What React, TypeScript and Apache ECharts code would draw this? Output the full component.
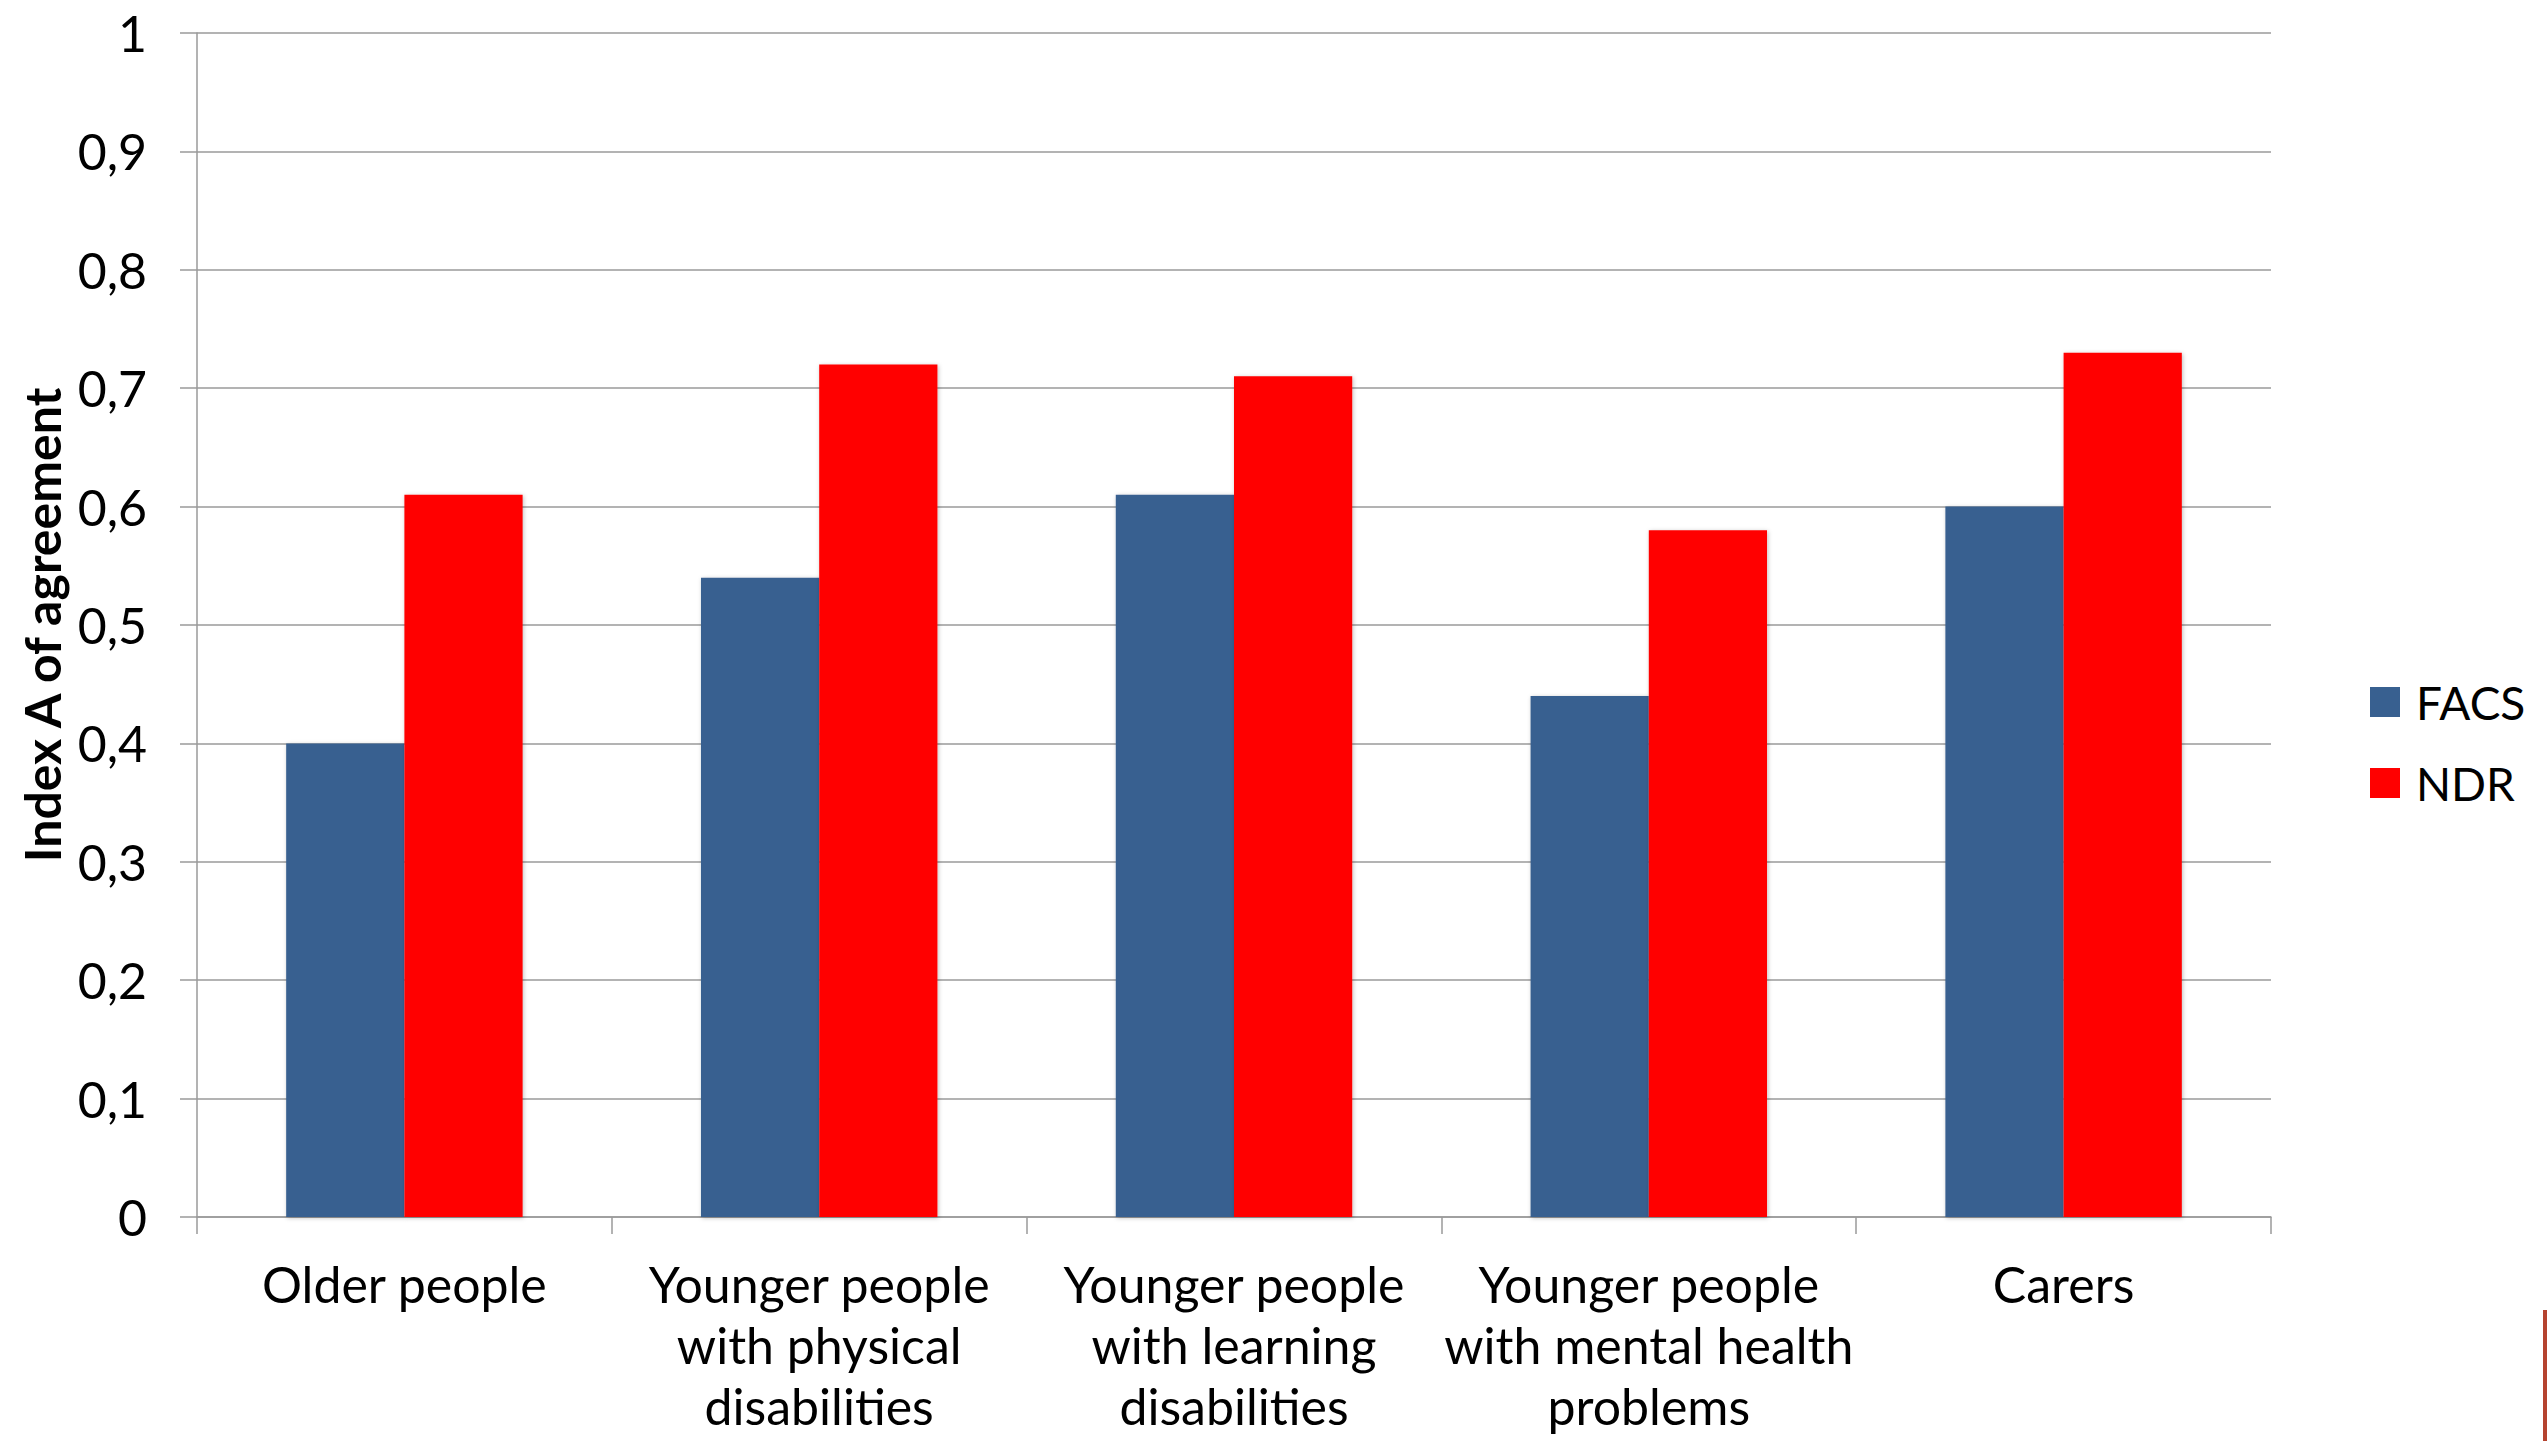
import React, { useEffect, useRef } from "react";
import * as echarts from "echarts";

const categories = [
  "Older people",
  "Younger people\nwith physical\ndisabilities",
  "Younger people\nwith learning\ndisabilities",
  "Younger people\nwith mental health\nproblems",
  "Carers",
];
const facsValues = [0.4, 0.54, 0.61, 0.44, 0.6];
const ndrValues = [0.61, 0.72, 0.71, 0.58, 0.73];
const seriesNames = ["FACS", "NDR"];
const yAxisTitle = "Index A of agreement";

const FONT = "Lato, 'Liberation Sans', sans-serif";

export default function App() {
  const ref = useRef<HTMLDivElement>(null);
  useEffect(() => {
    document.body.style.margin = "0";
    const chart = echarts.init(ref.current!, null, { renderer: "svg" });
    const fmt = (v: number) =>
      v === 0 ? "0" : v === 1 ? "1" : v.toFixed(1).replace(".", ",");
    chart.setOption({
      animation: false,
      backgroundColor: "#ffffff",
      textStyle: { fontFamily: FONT },
      grid: {
        left: 197,
        top: 33,
        right: 276,
        bottom: 224,
        containLabel: false,
        outerBoundsMode: "none",
      },
      legend: {
        orient: "vertical",
        left: 2365,
        top: 672,
        itemWidth: 30,
        itemHeight: 30,
        itemGap: 31,
        icon: "rect",
        data: seriesNames,
        textStyle: {
          fontFamily: FONT,
          fontSize: 46,
          lineHeight: 50,
          color: "#000",
          padding: [0, 0, 0, 11],
        },
      },
      xAxis: {
        type: "category",
        data: categories,
        axisLine: { lineStyle: { color: "#9a9a9a", width: 1.5 } },
        axisTick: { show: true, length: 17, lineStyle: { color: "#9a9a9a", width: 1.5 } },
        axisLabel: {
          interval: 0,
          margin: 36,
          color: "#000",
          fontFamily: FONT,
          fontSize: 50,
          lineHeight: 61,
          align: "center",
        },
      },
      yAxis: {
        type: "value",
        min: 0,
        max: 1,
        interval: 0.1,
        name: yAxisTitle,
        nameLocation: "middle",
        nameGap: 128,
        nameRotate: 90,
        nameTextStyle: { fontFamily: FONT, fontSize: 50, fontWeight: "bold", color: "#000" },
        axisLine: { show: true, lineStyle: { color: "#9a9a9a", width: 1.5 } },
        axisTick: { show: true, length: 17, lineStyle: { color: "#9a9a9a", width: 1.5 } },
        splitLine: { show: true, lineStyle: { color: "#9a9a9a", width: 1.5 } },
        axisLabel: {
          margin: 50,
          color: "#000",
          fontFamily: FONT,
          fontSize: 50,
          formatter: fmt,
        },
      },
      series: [
        {
          name: seriesNames[0],
          type: "bar",
          data: facsValues,
          barGap: "0%",
          barCategoryGap: "43%",
          itemStyle: {
            color: "#386090",
            shadowBlur: 4,
            shadowColor: "rgba(0,0,0,0.25)",
            shadowOffsetX: 1,
            shadowOffsetY: 1,
          },
        },
        {
          name: seriesNames[1],
          type: "bar",
          data: ndrValues,
          barGap: "0%",
          barCategoryGap: "43%",
          itemStyle: {
            color: "#ff0000",
            shadowBlur: 4,
            shadowColor: "rgba(0,0,0,0.25)",
            shadowOffsetX: 1,
            shadowOffsetY: 1,
          },
        },
      ],
      graphic: [
        {
          type: "rect",
          right: 0,
          bottom: 0,
          shape: { width: 4, height: 131 },
          style: { fill: "#b5432f" },
        },
      ],
    });
    return () => chart.dispose();
  }, []);
  return <div ref={ref} style={{ width: 2547, height: 1441 }} />;
}
